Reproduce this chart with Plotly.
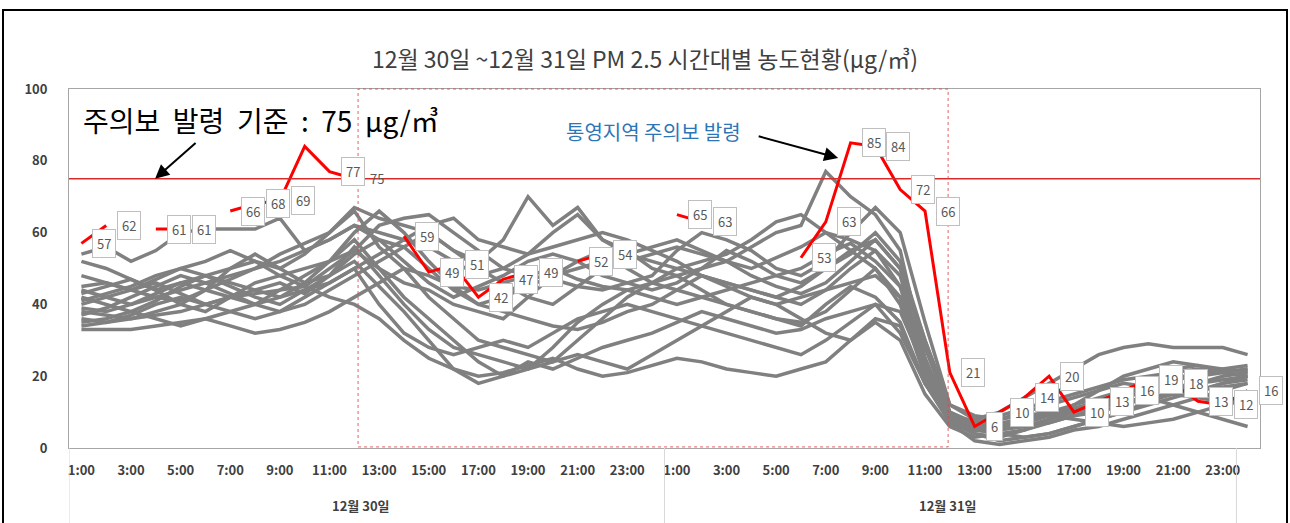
import plotly.graph_objects as go

# ---------------- data ----------------
dates = ["12월 30일", "12월 31일"]
hours = ["1:00", "2:00", "3:00", "4:00", "5:00", "6:00", "7:00", "8:00", "9:00", "10:00",
         "11:00", "12:00", "13:00", "14:00", "15:00", "16:00", "17:00", "18:00", "19:00",
         "20:00", "21:00", "22:00", "23:00", "24:00"]
categories = [d + " " + h for d in dates for h in hours]

# Tongyeong (red) series; None = no value drawn
tongyeong = [57, 62, None, 61, 61, None, 66, 68, 69, 84, 77, 75,
             None, 59, 49, 51, 42, 47, 49, None, 52, 54, None, None,
             65, 63, None, None, None, 53, 63, 85, 84, 72, 66, 21,
             6, 10, 14, 20, 10, 13, 16, 19, 18, 13, 12, 16]
# which red points carry a data label (1 = boxed label, 2 = plain label, 0 = none)
tongyeong_label = [1, 1, 0, 1, 1, 0, 1, 1, 1, 0, 1, 2,
                   0, 1, 1, 1, 1, 1, 1, 0, 1, 1, 0, 0,
                   1, 1, 0, 0, 0, 1, 1, 1, 1, 1, 1, 1,
                   1, 1, 1, 1, 1, 1, 1, 1, 1, 1, 1, 1]

# other stations (grey)
g01 = [54, 56, 52, 55, 60, 61, 61, 61, 64, 55, 58, 62, 58, 56, 50, 44, 40, 38, 36, 34, 33, 35, 38, 40,
       44, 48, 46, 44, 42, 45, 50, 55, 58, 50, 30, 10, 6, 5, 8, 10, 12, 14, 16, 18, 20, 20, 21, 22]
g02 = [52, 50, 47, 44, 46, 48, 50, 52, 50, 54, 60, 67, 64, 62, 60, 55, 52, 58, 70, 62, 67, 58, 55, 50,
       48, 50, 52, 56, 60, 62, 77, 70, 65, 55, 25, 8, 5, 6, 8, 9, 10, 12, 14, 16, 17, 18, 19, 20]
g03 = [45, 46, 44, 42, 41, 44, 47, 50, 54, 57, 60, 66, 56, 50, 42, 36, 30, 28, 26, 24, 30, 36, 42, 46,
       50, 52, 54, 58, 63, 65, 60, 55, 50, 40, 20, 7, 4, 3, 5, 8, 10, 12, 15, 18, 22, 23, 21, 22]
g04 = [43, 45, 47, 44, 40, 38, 42, 46, 48, 50, 52, 55, 62, 64, 65, 60, 55, 50, 48, 47, 45, 44, 46, 48,
       55, 60, 58, 55, 50, 48, 52, 60, 67, 60, 35, 12, 8, 6, 6, 7, 9, 10, 12, 14, 16, 18, 20, 21]
g05 = [42, 40, 38, 41, 45, 48, 46, 44, 42, 46, 52, 60, 66, 60, 52, 45, 40, 42, 45, 48, 50, 52, 54, 56,
       58, 55, 52, 50, 53, 56, 60, 58, 55, 45, 22, 9, 6, 5, 7, 9, 12, 16, 20, 22, 24, 23, 22, 21]
g06 = [40, 42, 44, 46, 43, 40, 42, 44, 46, 43, 48, 56, 48, 40, 33, 28, 26, 24, 22, 28, 35, 40, 44, 46,
       48, 44, 40, 38, 36, 34, 40, 45, 42, 35, 18, 8, 4, 2, 3, 4, 6, 8, 10, 13, 15, 16, 18, 19]
g07 = [39, 38, 40, 43, 46, 44, 42, 40, 44, 48, 52, 58, 50, 42, 36, 30, 24, 20, 22, 24, 26, 24, 22, 26,
       30, 34, 38, 42, 40, 36, 32, 30, 35, 30, 15, 6, 3, 4, 5, 7, 9, 11, 13, 14, 12, 10, 8, 6]
g08 = [38, 37, 36, 38, 40, 44, 50, 54, 50, 46, 48, 52, 45, 38, 30, 22, 18, 20, 24, 22, 25, 28, 30, 32,
       35, 38, 36, 34, 32, 33, 36, 38, 40, 32, 18, 8, 6, 7, 8, 9, 8, 7, 6, 7, 8, 10, 12, 14]
g09 = [37, 39, 42, 45, 48, 46, 43, 40, 38, 42, 46, 50, 54, 58, 56, 52, 48, 50, 54, 56, 58, 60, 58, 55,
       52, 48, 45, 42, 40, 42, 44, 46, 48, 42, 20, 7, 5, 6, 7, 9, 11, 13, 15, 17, 19, 20, 22, 23]
g10 = [36, 35, 37, 40, 42, 40, 38, 36, 38, 40, 44, 48, 52, 56, 60, 55, 50, 46, 42, 40, 45, 50, 52, 54,
       56, 54, 52, 48, 45, 43, 46, 52, 58, 50, 28, 10, 7, 8, 10, 12, 14, 16, 18, 17, 16, 15, 14, 13]
g11 = [35, 36, 38, 36, 34, 36, 38, 40, 42, 44, 46, 50, 40, 32, 28, 26, 28, 30, 28, 32, 36, 38, 40, 38,
       36, 34, 32, 30, 28, 26, 30, 35, 40, 38, 22, 8, 5, 4, 3, 4, 6, 8, 10, 12, 14, 16, 18, 20]
g12 = [34, 35, 36, 37, 38, 40, 42, 43, 44, 45, 42, 40, 36, 30, 25, 22, 20, 21, 23, 25, 22, 20, 21, 23,
       25, 24, 22, 21, 20, 22, 24, 30, 36, 34, 18, 7, 2, 1, 2, 3, 5, 6, 8, 10, 12, 14, 16, 18]
g13 = [33, 33, 33, 34, 35, 36, 34, 32, 33, 35, 38, 42, 46, 50, 48, 45, 44, 46, 48, 50, 47, 45, 44, 42,
       40, 42, 44, 46, 48, 50, 54, 57, 52, 45, 25, 9, 6, 5, 6, 8, 10, 12, 14, 16, 15, 14, 13, 12]
g14 = [48, 46, 44, 47, 50, 52, 55, 52, 48, 45, 50, 55, 50, 46, 44, 40, 38, 36, 42, 48, 52, 55, 50, 46,
       44, 42, 40, 38, 36, 35, 38, 44, 50, 42, 20, 8, 8, 10, 14, 18, 22, 26, 28, 29, 28, 28, 28, 26]
g15 = [44, 42, 40, 42, 44, 46, 48, 50, 52, 55, 58, 62, 60, 58, 62, 64, 58, 56, 54, 60, 65, 58, 54, 52,
       50, 48, 46, 44, 42, 40, 44, 50, 55, 48, 24, 9, 7, 9, 11, 13, 15, 17, 19, 20, 21, 22, 21, 20]
g16 = [41, 43, 45, 48, 50, 48, 45, 42, 40, 44, 48, 54, 58, 52, 46, 42, 45, 48, 52, 54, 52, 48, 46, 44,
       46, 50, 55, 52, 48, 46, 50, 54, 60, 52, 30, 12, 9, 8, 9, 10, 11, 12, 13, 14, 15, 16, 17, 18]
others = [g01, g02, g03, g04, g05, g06, g07, g08, g09, g10, g11, g12, g13, g14, g15, g16]

threshold = 75
y_ticks = [0, 20, 40, 60, 80, 100]

# ---------------- figure ----------------
FONT = "Noto Sans CJK KR"
W, H = 1290, 523
PL, PR, PT, PB = 69, 1260, 89, 448          # plot area in page pixels
PW, PH = PR - PL, PB - PT


def px_x(p):   # page pixel -> paper x
    return (p - PL) / PW


def px_y(p):   # page pixel -> paper y
    return (PB - p) / PH


fig = go.Figure()

for s in others:
    fig.add_trace(go.Scatter(x=categories, y=s, mode="lines",
                             line=dict(color="#808080", width=3.5),
                             hoverinfo="skip", showlegend=False))

fig.add_trace(go.Scatter(x=categories, y=tongyeong, mode="lines",
                         line=dict(color="#ff0000", width=3),
                         connectgaps=False, showlegend=False))

annotations = []
for c, v, lab in zip(categories, tongyeong, tongyeong_label):
    if v is None or lab == 0:
        continue
    boxed = lab == 1
    annotations.append(dict(
        x=c, y=v, xref="x", yref="y", text=str(v), showarrow=False,
        xanchor="left", yanchor="middle", xshift=11,
        font=dict(family=FONT, size=13, color="#595959"),
        bgcolor="white" if boxed else "rgba(0,0,0,0)",
        bordercolor="#bfbfbf" if boxed else "rgba(0,0,0,0)",
        borderwidth=1, borderpad=4))

# threshold text + arrow
annotations.append(dict(x=px_x(81), y=px_y(120), xref="paper", yref="paper",
                        text="주의보  발령  기준  :  75  μg/㎥", showarrow=False,
                        xanchor="left", yanchor="middle",
                        font=dict(family=FONT, size=28, color="#000000")))
annotations.append(dict(x=2.97, y=threshold, xref="x", yref="y", text="",
                        showarrow=True, ax=42, ay=-37, arrowhead=2, arrowsize=1.4,
                        arrowwidth=2, arrowcolor="#000000"))
# warning issued text + arrow
annotations.append(dict(x=px_x(564), y=px_y(131), xref="paper", yref="paper",
                        text="통영지역 주의보 발령", showarrow=False,
                        xanchor="left", yanchor="middle",
                        font=dict(family=FONT, size=20, color="#2e75b6")))
annotations.append(dict(x=30.5, y=80.8, xref="x", yref="y", text="",
                        showarrow=True, ax=-81, ay=-22, arrowhead=2, arrowsize=1.4,
                        arrowwidth=2, arrowcolor="#000000"))
# date group labels
for xpos, d in zip([11.27, 34.93], dates):
    annotations.append(dict(x=xpos, y=px_y(505), xref="x", yref="paper", text="<b>" + d + "</b>",
                            showarrow=False, xanchor="center", yanchor="middle",
                            font=dict(family=FONT, size=13, color="#404040")))

shapes = [
    # threshold line
    dict(type="line", xref="paper", yref="y", x0=0, x1=1, y0=threshold, y1=threshold,
         line=dict(color="#d92a2a", width=1.5)),
    # highlighted period
    dict(type="rect", xref="x", yref="paper", x0=11.15, x1=34.93, y0=0.003, y1=1.0,
         line=dict(color="rgba(220,70,70,0.85)", width=1, dash="dot")),
    # outer chart frame
    dict(type="rect", xref="paper", yref="paper",
         x0=px_x(3), x1=px_x(1287), y0=px_y(540), y1=px_y(10),
         line=dict(color="#000000", width=2)),
]
for xs in [-0.5, 23.5, 46.55]:
    shapes.append(dict(type="line", xref="x", yref="paper", x0=xs, x1=xs, y0=0, y1=px_y(523),
                       line=dict(color="#d9d9d9", width=1)))

fig.update_layout(
    width=W, height=H, autosize=False,
    margin=dict(l=PL, r=W - PR, t=PT, b=H - PB),
    paper_bgcolor="white", plot_bgcolor="white",
    showlegend=False,
    title=dict(text="12월 30일 ~12월 31일 PM 2.5 시간대별 농도현황(μg/㎥)",
               x=0.5, xanchor="center", y=1 - 60 / H, yanchor="middle", yref="container",
               font=dict(family=FONT, size=23, color="#404040")),
    annotations=annotations,
    shapes=shapes,
)
fig.update_xaxes(type="category", range=[-0.5, 47.5],
                 tickvals=categories[0::2], ticktext=["<b>" + h + "</b>" for h in hours[0::2]] * 2,
                 tickangle=0, showgrid=False, ticks="", showline=True, linecolor="#a6a6a6",
                 linewidth=1, mirror=True, zeroline=False, ticklabelstandoff=10,
                 tickfont=dict(family=FONT, size=13, color="#404040"))
fig.update_yaxes(range=[0, 100], tickvals=y_ticks, ticktext=["<b>%d</b>" % t for t in y_ticks],
                 showgrid=False, ticks="", showline=True, linecolor="#a6a6a6", linewidth=1,
                 mirror=True, zeroline=False, ticklabelstandoff=18,
                 tickfont=dict(family=FONT, size=13, color="#404040"))

fig.write_html("out.html", config={"displayModeBar": False},
               post_script="document.body.style.margin='0';")
